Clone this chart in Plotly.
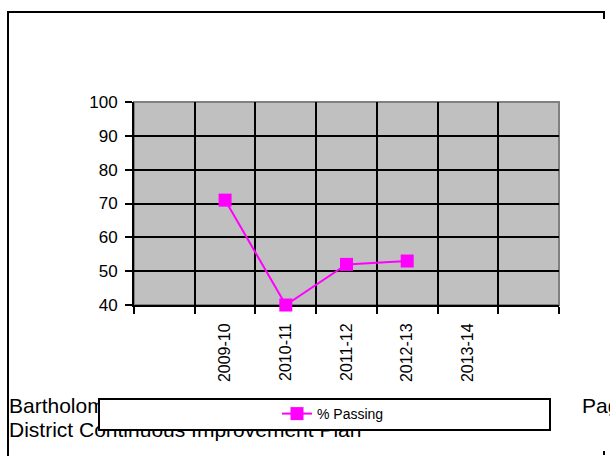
import plotly.graph_objects as go

# School years on the category axis (first and last slots are empty)
years = ["", "2009-10", "2010-11", "2011-12", "2012-13", "2013-14", ""]
pct_passing = [None, 71, 40, 52, 53, None, None]
series_name = "% Passing"

# Page text that sits behind the chart
page_texts = ["Bartholomew Consolidated School Corporation",
              "District Continuous Improvement Plan",
              "Page"]

W, H = 610, 456
FONT = "Arial, Liberation Sans, sans-serif"


def px(x):
    return x / W


def py(y):
    return 1 - y / H


slots = list(range(len(years)))
bounds = [s - 0.5 for s in slots] + [slots[-1] + 0.5]

fig = go.Figure()

# Page text in a full-page overlay so the legend box can sit over it
fig.add_trace(go.Scatter(
    x=[9, 9, 582], y=[408, 432, 408],
    text=page_texts, mode="text", textposition="middle right",
    textfont=dict(family=FONT, size=21, color="black"),
    xaxis="x2", yaxis="y2", showlegend=False, hoverinfo="skip",
))

fig.add_trace(go.Scatter(
    x=slots, y=pct_passing, name=series_name,
    mode="lines+markers",
    line=dict(color="#FF00FF", width=2),
    marker=dict(symbol="square", size=13, color="#FF00FF"),
    cliponaxis=False,
))

# page frame: left edge and top edge with a short drop at the right end
frame_path = (f"M {px(8)},{py(456)} L {px(8)},{py(12)} "
              f"L {px(604)},{py(12)} L {px(604)},{py(19)}")

shapes = [
    # gray plot area with gray top/right border
    dict(type="rect", xref="x domain", yref="y domain", x0=0, x1=1, y0=0, y1=1,
         fillcolor="#C0C0C0", line=dict(color="#808080", width=2), layer="below"),
    # legend box
    dict(type="rect", xref="paper", yref="paper",
         x0=px(99), x1=px(550), y0=py(399), y1=py(430),
         fillcolor="white", line=dict(color="black", width=2), layer="above"),
    dict(type="path", xref="paper", yref="paper", path=frame_path,
         line=dict(color="black", width=2)),
    dict(type="line", xref="paper", yref="paper", x0=px(604), x1=px(604), y0=py(451), y1=py(455),
         line=dict(color="black", width=2)),
]

fig.update_layout(
    width=W, height=H,
    margin=dict(l=0, r=0, t=0, b=0, pad=0, autoexpand=False),
    paper_bgcolor="white",
    plot_bgcolor="rgba(0,0,0,0)",
    font=dict(family=FONT, color="black"),
    shapes=shapes,
    showlegend=True,
    legend=dict(
        orientation="h", x=px(277), y=py(414), xanchor="left", yanchor="middle",
        bgcolor="rgba(0,0,0,0)", borderwidth=0,
        font=dict(family=FONT, size=14, color="black"),
    ),
    xaxis=dict(
        domain=[px(134), px(559)], range=[-0.5, len(years) - 0.5],
        tickmode="array", tickvals=slots, ticktext=years,
        tickangle=-90, ticks="", showgrid=False,
        tickfont=dict(family=FONT, size=16, color="black"),
        showline=True, linecolor="black", linewidth=2,
        minor=dict(tickmode="array", tickvals=bounds, ticks="outside", ticklen=7,
                   tickwidth=2, tickcolor="black",
                   showgrid=True, gridcolor="black", gridwidth=2),
        zeroline=False, fixedrange=True, layer="below traces",
        ticklabelstandoff=10, automargin=False,
    ),
    yaxis=dict(
        domain=[py(305), py(102)], range=[40, 100], dtick=10,
        ticks="outside", ticklen=7, tickwidth=2, tickcolor="black",
        showgrid=True, gridcolor="black", gridwidth=2,
        tickfont=dict(family=FONT, size=17, color="black"),
        showline=True, linecolor="black", linewidth=2,
        zeroline=False, fixedrange=True, layer="below traces",
        ticklabelstandoff=4, automargin=False,
    ),
    xaxis2=dict(domain=[0, 1], range=[0, W], visible=False, fixedrange=True, anchor="y2"),
    yaxis2=dict(domain=[0, 1], range=[H, 0], visible=False, fixedrange=True, anchor="x2"),
)

# keep the page itself from scrolling
fig.write_html(
    "out.html",
    post_script="document.documentElement.style.overflow = 'hidden';"
                "document.body.style.overflow = 'hidden';",
)
